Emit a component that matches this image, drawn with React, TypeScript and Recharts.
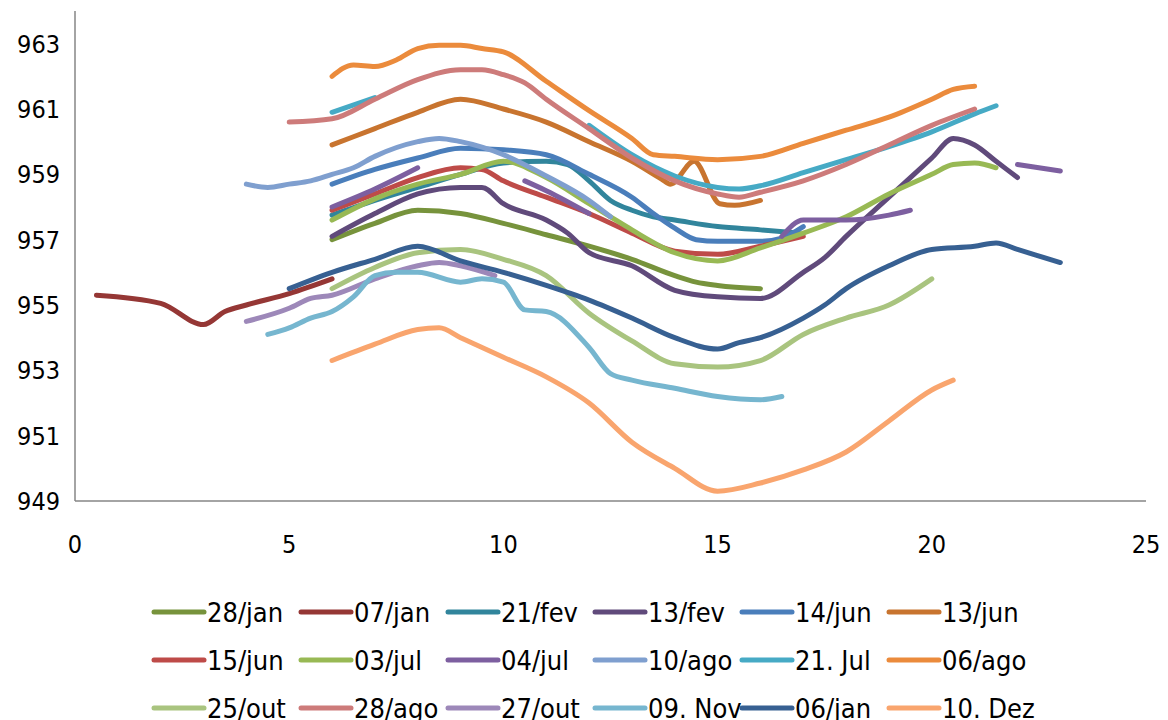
import { LineChart, Line, XAxis, YAxis, Legend } from 'recharts';

type Pt = [number, number | null];

// hour of day vs. pressure, one array per day
const jan28: Pt[] = [[6, 957.0], [7, 957.5], [8, 957.9], [9, 957.8], [10, 957.5], [11, 957.15], [12, 956.8], [13, 956.4], [14, 955.9], [14.5, 955.7], [15, 955.6], [16, 955.5]];
const jan07: Pt[] = [[0.5, 955.3], [2, 955.05], [3, 954.4], [3.5, 954.8], [4, 955.0], [5, 955.35], [6, 955.8]];
const fev21: Pt[] = [[6, 957.75], [7, 958.2], [8, 958.6], [9, 959.0], [10, 959.35], [11, 959.4], [11.5, 959.3], [12, 958.8], [12.5, 958.2], [13, 957.9], [13.5, 957.7], [14, 957.6], [15, 957.4], [16, 957.3], [16.9, 957.2]];
const fev13: Pt[] = [[6, 957.1], [7, 957.8], [8, 958.4], [9, 958.6], [9.5, 958.6], [10, 958.1], [11, 957.6], [11.5, 957.2], [12, 956.6], [13, 956.2], [14, 955.45], [15, 955.25], [16, 955.2], [17, 956.0], [17.5, 956.45], [18, 957.1], [19, 958.3], [20, 959.5], [20.5, 960.1], [21, 959.9], [21.5, 959.4], [22, 958.9]];
const jun14: Pt[] = [[6, 958.7], [7, 959.15], [8, 959.5], [9, 959.8], [10, 959.75], [11, 959.6], [12, 959.0], [13, 958.3], [13.5, 957.8], [14, 957.35], [14.5, 957.0], [15, 956.95], [16, 956.95], [16.5, 957.05], [17, 957.4]];
const jun13: Pt[] = [[6, 959.9], [7, 960.4], [8, 960.9], [9, 961.3], [10, 961.0], [11, 960.6], [12, 960.0], [13, 959.4], [13.7, 958.85], [13.9, 958.7], [14.45, 959.4], [15.05, 958.1], [15.4, 958.05], [16, 958.2]];
const jun15: Pt[] = [[6, 957.9], [7, 958.4], [8, 958.9], [9, 959.2], [9.5, 959.15], [10, 958.8], [11, 958.3], [12, 957.8], [13, 957.2], [14, 956.65], [15, 956.55], [16, 956.8], [17, 957.1]];
const jul03: Pt[] = [[6, 957.6], [7, 958.25], [8, 958.7], [9, 959.0], [10, 959.4], [11, 958.9], [12, 958.1], [12.5, 957.7], [13, 957.3], [14, 956.6], [15, 956.35], [16, 956.75], [17, 957.2], [18, 957.7], [19, 958.4], [20, 959.0], [20.5, 959.3], [21, 959.35], [21.5, 959.2]];
const jul04: Pt[] = [[6, 958.0], [7, 958.55], [8, 959.2], [9, null], [10.5, 958.8], [11, 958.5], [12, 957.8], [13, null], [16.5, 957.1], [17, 957.6], [18, 957.6], [19, 957.75], [19.5, 957.9], [20, null], [22, 959.3], [23, 959.1]];
const ago10: Pt[] = [[4, 958.7], [4.5, 958.6], [5, 958.7], [5.5, 958.8], [6, 959.0], [6.5, 959.2], [7, 959.55], [8, 960.0], [8.5, 960.1], [9, 960.0], [10, 959.6], [11, 958.95], [12, 958.2], [12.5, 957.7]];
const jul21: Pt[] = [[6, 960.9], [7, 961.35], [8, null], [12, 960.5], [13, 959.6], [14, 958.95], [15, 958.6], [15.5, 958.55], [16, 958.65], [17, 959.05], [18, 959.45], [19, 959.85], [20, 960.3], [21, 960.85], [21.5, 961.1]];
const ago06: Pt[] = [[6, 962.0], [6.5, 962.35], [7, 962.3], [7.5, 962.5], [8, 962.85], [8.5, 962.95], [9, 962.95], [9.5, 962.85], [10, 962.75], [11, 961.85], [12, 960.95], [13, 960.1], [13.5, 959.6], [14, 959.55], [15, 959.45], [16, 959.55], [17, 959.95], [18, 960.35], [19, 960.75], [20, 961.3], [20.5, 961.6], [21, 961.7]];
const out25: Pt[] = [[6, 955.5], [7, 956.15], [8, 956.6], [9, 956.7], [10, 956.4], [11, 955.9], [12, 954.75], [13, 953.9], [14, 953.2], [15, 953.1], [16, 953.3], [17, 954.1], [18, 954.6], [19, 955.0], [20, 955.8]];
const ago28: Pt[] = [[5, 960.6], [6, 960.7], [7, 961.3], [8, 961.9], [9, 962.2], [9.5, 962.2], [10, 962.05], [10.5, 961.8], [11, 961.3], [12, 960.4], [13, 959.5], [14, 958.8], [15, 958.4], [15.5, 958.3], [16, 958.45], [17, 958.8], [18, 959.3], [19, 959.9], [20, 960.5], [21, 961.0]];
const out27: Pt[] = [[4, 954.5], [5, 954.9], [5.5, 955.2], [6, 955.3], [7, 955.8], [8, 956.2], [8.5, 956.3], [9, 956.2], [9.8, 955.9]];
const nov09: Pt[] = [[4.5, 954.1], [5, 954.3], [5.5, 954.6], [6, 954.8], [6.5, 955.25], [7, 955.9], [7.5, 956.0], [8, 956.0], [9, 955.7], [9.5, 955.8], [10, 955.7], [10.5, 954.85], [11, 954.8], [12, 953.7], [12.5, 952.9], [13, 952.7], [14, 952.45], [15, 952.2], [16, 952.1], [16.5, 952.2]];
const jan06: Pt[] = [[5, 955.5], [6, 956.0], [7, 956.4], [8, 956.8], [9, 956.35], [10, 956.0], [11, 955.6], [12, 955.15], [13, 954.6], [14, 954.0], [15, 953.65], [15.5, 953.85], [16, 954.0], [17, 954.6], [17.5, 955.0], [18, 955.5], [19, 956.2], [20, 956.7], [21, 956.8], [21.5, 956.9], [22, 956.7], [23, 956.3]];
const dez10: Pt[] = [[6, 953.3], [7, 953.8], [8, 954.25], [8.5, 954.3], [9, 954.0], [10, 953.4], [11, 952.8], [12, 952.0], [13, 950.8], [14, 950.0], [15, 949.3], [16, 949.55], [17, 949.95], [18, 950.5], [19, 951.45], [20, 952.4], [20.5, 952.7]];

const xTicks = [0, 5, 10, 15, 20, 25];
const yTicks = [949, 951, 953, 955, 957, 959, 961, 963];

const series = [
  { name: '28/jan', color: '#77933C', pts: jan28 },
  { name: '07/jan', color: '#953735', pts: jan07 },
  { name: '21/fev', color: '#31859C', pts: fev21 },
  { name: '13/fev', color: '#604A7B', pts: fev13 },
  { name: '14/jun', color: '#4A7EBB', pts: jun14 },
  { name: '13/jun', color: '#C8742F', pts: jun13 },
  { name: '15/jun', color: '#BE4B48', pts: jun15 },
  { name: '03/jul', color: '#98B954', pts: jul03 },
  { name: '04/jul', color: '#7D5FA0', pts: jul04 },
  { name: '10/ago', color: '#7F9FCF', pts: ago10 },
  { name: '21. Jul', color: '#46AAC5', pts: jul21 },
  { name: '06/ago', color: '#EB8B3C', pts: ago06 },
  { name: '25/out', color: '#A9C47F', pts: out25 },
  { name: '28/ago', color: '#CD7B7A', pts: ago28 },
  { name: '27/out', color: '#9D88B9', pts: out27 },
  { name: '09. Nov', color: '#76B6CF', pts: nov09 },
  { name: '06/jan', color: '#376092', pts: jan06 },
  { name: '10. Dez', color: '#F9A56E', pts: dez10 },
];

const FONT = "'DejaVu Sans Condensed', 'Liberation Sans', sans-serif";

function LegendGrid() {
  return (
    <div style={{ position: 'relative', width: 1168, height: 130, fontFamily: FONT }}>
      {series.map((s, i) => {
        const col = i % 6;
        const row = Math.floor(i / 6);
        return (
          <div
            key={s.name}
            style={{
              position: 'absolute',
              left: 151 + col * 147,
              top: row * 48,
              height: 44,
              display: 'flex',
              alignItems: 'center',
              whiteSpace: 'nowrap',
            }}
          >
            <svg width={56} height={10}>
              <line x1={3} y1={5} x2={53} y2={5} stroke={s.color} strokeWidth={5} strokeLinecap="round" />
            </svg>
            <span style={{ fontSize: 27, color: '#000' }}>{s.name}</span>
          </div>
        );
      })}
    </div>
  );
}

export default function App() {
  return (
    <div style={{ position: 'absolute', left: 0, top: 0, width: 1168, height: 720, background: '#fff' }}>
      <LineChart width={1168} height={720} margin={{ top: 11, right: 22, left: 0, bottom: 159 }}>
        <XAxis
          type="number"
          dataKey="x"
          domain={[0, 25]}
          ticks={xTicks}
          interval={0}
          allowDuplicatedCategory={false}
          tickLine={false}
          tickMargin={28}
          height={60}
          axisLine={{ stroke: '#868686', strokeWidth: 1.5 }}
          tick={{ fill: '#000', fontSize: 25, fontFamily: FONT }}
        />
        <YAxis
          type="number"
          domain={[949, 964]}
          ticks={yTicks}
          interval={0}
          width={75}
          tickLine={false}
          tickMargin={9}
          axisLine={{ stroke: '#868686', strokeWidth: 1.5 }}
          tick={{ fill: '#000', fontSize: 25, fontFamily: FONT }}
        />
        {series.map((s) => (
          <Line
            key={s.name}
            name={s.name}
            data={s.pts.map(([x, y]) => ({ x, y }))}
            dataKey="y"
            type="monotone"
            stroke={s.color}
            strokeWidth={5}
            strokeLinecap="round"
            strokeLinejoin="round"
            dot={false}
            activeDot={false}
            isAnimationActive={false}
          />
        ))}
        <Legend
          layout="horizontal"
          verticalAlign="middle"
          align="center"
          wrapperStyle={{ top: 590, left: 0, width: 1168 }}
          content={() => <LegendGrid />}
        />
      </LineChart>
    </div>
  );
}
